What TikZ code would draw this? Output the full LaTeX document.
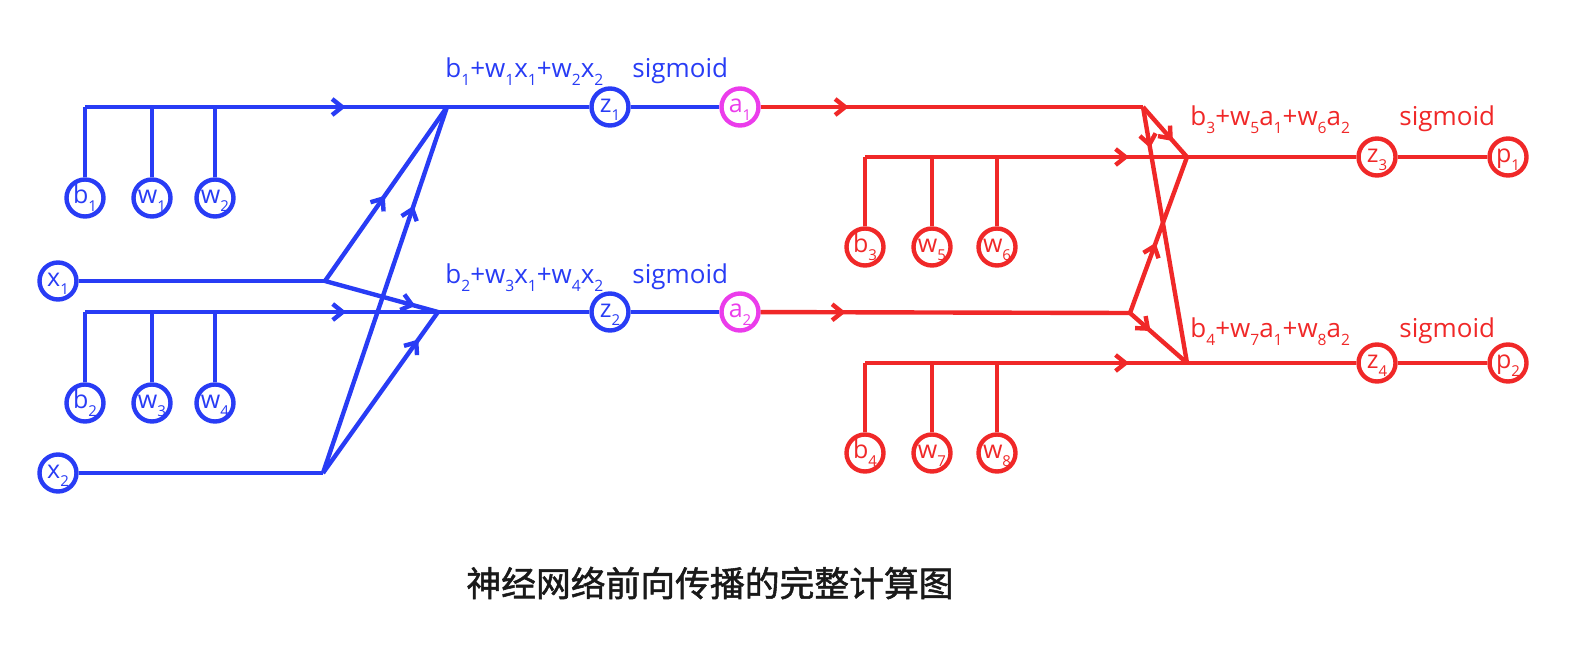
\documentclass[tikz,border=0pt]{standalone}
\usepackage{fontspec}
\setmainfont{Open Sans}
\newfontfamily\cjk[FakeBold=1.5]{Noto Sans CJK SC}
\usetikzlibrary{arrows.meta,decorations.markings,calc}
\definecolor{nblue}{RGB}{40,60,245}
\definecolor{nred}{RGB}{240,40,40}
\definecolor{nmag}{RGB}{235,60,235}
\newcommand\subx[1]{\raisebox{-0.33em}{\fontsize{7.8pt}{8pt}\selectfont #1}}
\newcommand\subc[1]{\raisebox{-4pt}{\fontsize{7.5pt}{8pt}\selectfont #1}}
\tikzset{
  nd/.style={circle,draw,line width=2.2pt,minimum size=18.5pt,inner sep=0pt,
    text height=5pt,text depth=0pt,
    font=\fontsize{12.5pt}{14pt}\selectfont},
  ln/.style={line width=2.2pt},
  lbl/.style={anchor=base west,inner sep=0pt,font=\fontsize{13pt}{15pt}\selectfont},
  marr/.style={postaction={decorate},decoration={markings,
    mark=at position #1 with {\arrow{Straight Barb[length=5pt,width=8pt]}}}}
}
\begin{document}
\begin{tikzpicture}[x=0.5pt,y=-0.5pt]
\useasboundingbox (0,0) rectangle (1590,653);
% ---------- blue part ----------
\begin{scope}[nblue]
\node[nd] (b1) at (85,198) {b\subc{1}};
\node[nd] (w1) at (152,198) {w\subc{1}};
\node[nd] (w2) at (215,198) {w\subc{2}};
\node[nd] (x1) at (58,281) {x\subc{1}};
\node[nd] (b2) at (85,403) {b\subc{2}};
\node[nd] (w3) at (152,403) {w\subc{3}};
\node[nd] (w4) at (215,403) {w\subc{4}};
\node[nd] (x2) at (58,473) {x\subc{2}};
\node[nd] (z1) at (610,107) {z\subc{1}};
\node[nd] (z2) at (610,312) {z\subc{2}};
\coordinate (j1) at (447,107);
\coordinate (j2) at (438,312);
\coordinate (x1j) at (325,281);
\coordinate (x2j) at (323,473);
\coordinate (c1) at (b1 |- j1);
\coordinate (c2) at (b2 |- j2);
\draw[ln] (b1) -- (c1);
\draw[ln,marr=0.72] (c1) -- (j1);
\draw[ln] (w1) -- (w1 |- j1);
\draw[ln] (w2) -- (w2 |- j1);
\draw[ln] (b2) -- (c2);
\draw[ln,marr=0.74] (c2) -- (j2);
\draw[ln] (w3) -- (w3 |- j2);
\draw[ln] (w4) -- (w4 |- j2);
\draw[ln] (x1) -- (x1j);
\draw[ln] (x2) -- (x2j);
\draw[ln,marr=0.49] (x1j) -- (j1);
\draw[ln,marr=0.73] (x2j) -- (j1);
\draw[ln,marr=0.80] (x1j) -- (j2);
\draw[ln,marr=0.83] (x2j) -- (j2);
\draw[ln] (j1) -- (z1);
\draw[ln] (j2) -- (z2);
\node[lbl] (e1) at (445,77) {b\subx{1}+w\subx{1}x\subx{1}+w\subx{2}x\subx{2}};
\node[lbl] (s1) at (632,77) {sigmoid};
\node[lbl] (e2) at (445,283) {b\subx{2}+w\subx{3}x\subx{1}+w\subx{4}x\subx{2}};
\node[lbl] (s2) at (632,283) {sigmoid};
\end{scope}
% ---------- magenta ----------
\node[nd,nmag] (a1) at (740,107) {a\subc{1}};
\node[nd,nmag] (a2) at (740,312) {a\subc{2}};
\draw[ln,nblue] (z1) -- (a1);
\draw[ln,nblue] (z2) -- (a2);
% ---------- red part ----------
\begin{scope}[nred]
\node[nd] (b3) at (865,247) {b\subc{3}};
\node[nd] (w5) at (932,247) {w\subc{5}};
\node[nd] (w6) at (997,247) {w\subc{6}};
\node[nd] (b4) at (865,453) {b\subc{4}};
\node[nd] (w7) at (932,453) {w\subc{7}};
\node[nd] (w8) at (997,453) {w\subc{8}};
\node[nd] (z3) at (1377,157) {z\subc{3}};
\node[nd] (p1) at (1508,157) {p\subc{1}};
\node[nd] (z4) at (1377,363) {z\subc{4}};
\node[nd] (p2) at (1508,363) {p\subc{2}};
\coordinate (j3) at (1143,107);
\coordinate (j4) at (1130,313);
\coordinate (j5) at (1187,157);
\coordinate (j6) at (1187,363);
\coordinate (c3) at (b3 |- j5);
\coordinate (c4) at (b4 |- j6);
\draw[ln,marr=0.23] (a1) -- (j3);
\draw[ln,marr=0.23] (a2) -- (j4);
\draw[ln] (b3) -- (c3);
\draw[ln,marr=0.82] (c3) -- (j5);
\draw[ln] (w5) -- (w5 |- j5);
\draw[ln] (w6) -- (w6 |- j5);
\draw[ln] (b4) -- (c4);
\draw[ln,marr=0.82] (c4) -- (j6);
\draw[ln] (w7) -- (w7 |- j6);
\draw[ln] (w8) -- (w8 |- j6);
\draw[ln,marr=0.68] (j3) -- (j5);
\draw[ln,marr=0.16] (j3) -- (j6);
\draw[ln,marr=0.45] (j4) -- (j5);
\draw[ln,marr=0.36] (j4) -- (j6);
\draw[ln] (j5) -- (z3);
\draw[ln] (j6) -- (z4);
\draw[ln] (z3) -- (p1);
\draw[ln] (z4) -- (p2);
\node[lbl] (e3) at (1190,125) {b\subx{3}+w\subx{5}a\subx{1}+w\subx{6}a\subx{2}};
\node[lbl] (s3) at (1399,125) {sigmoid};
\node[lbl] (e4) at (1190,337) {b\subx{4}+w\subx{7}a\subx{1}+w\subx{8}a\subx{2}};
\node[lbl] (s4) at (1399,337) {sigmoid};
\end{scope}
% ---------- caption ----------
\node[font=\cjk\fontsize{17.4pt}{20pt}\selectfont,inner sep=0pt,text=black!90] (cap) at (710,583) {神经网络前向传播的完整计算图};
\end{tikzpicture}
\end{document}
